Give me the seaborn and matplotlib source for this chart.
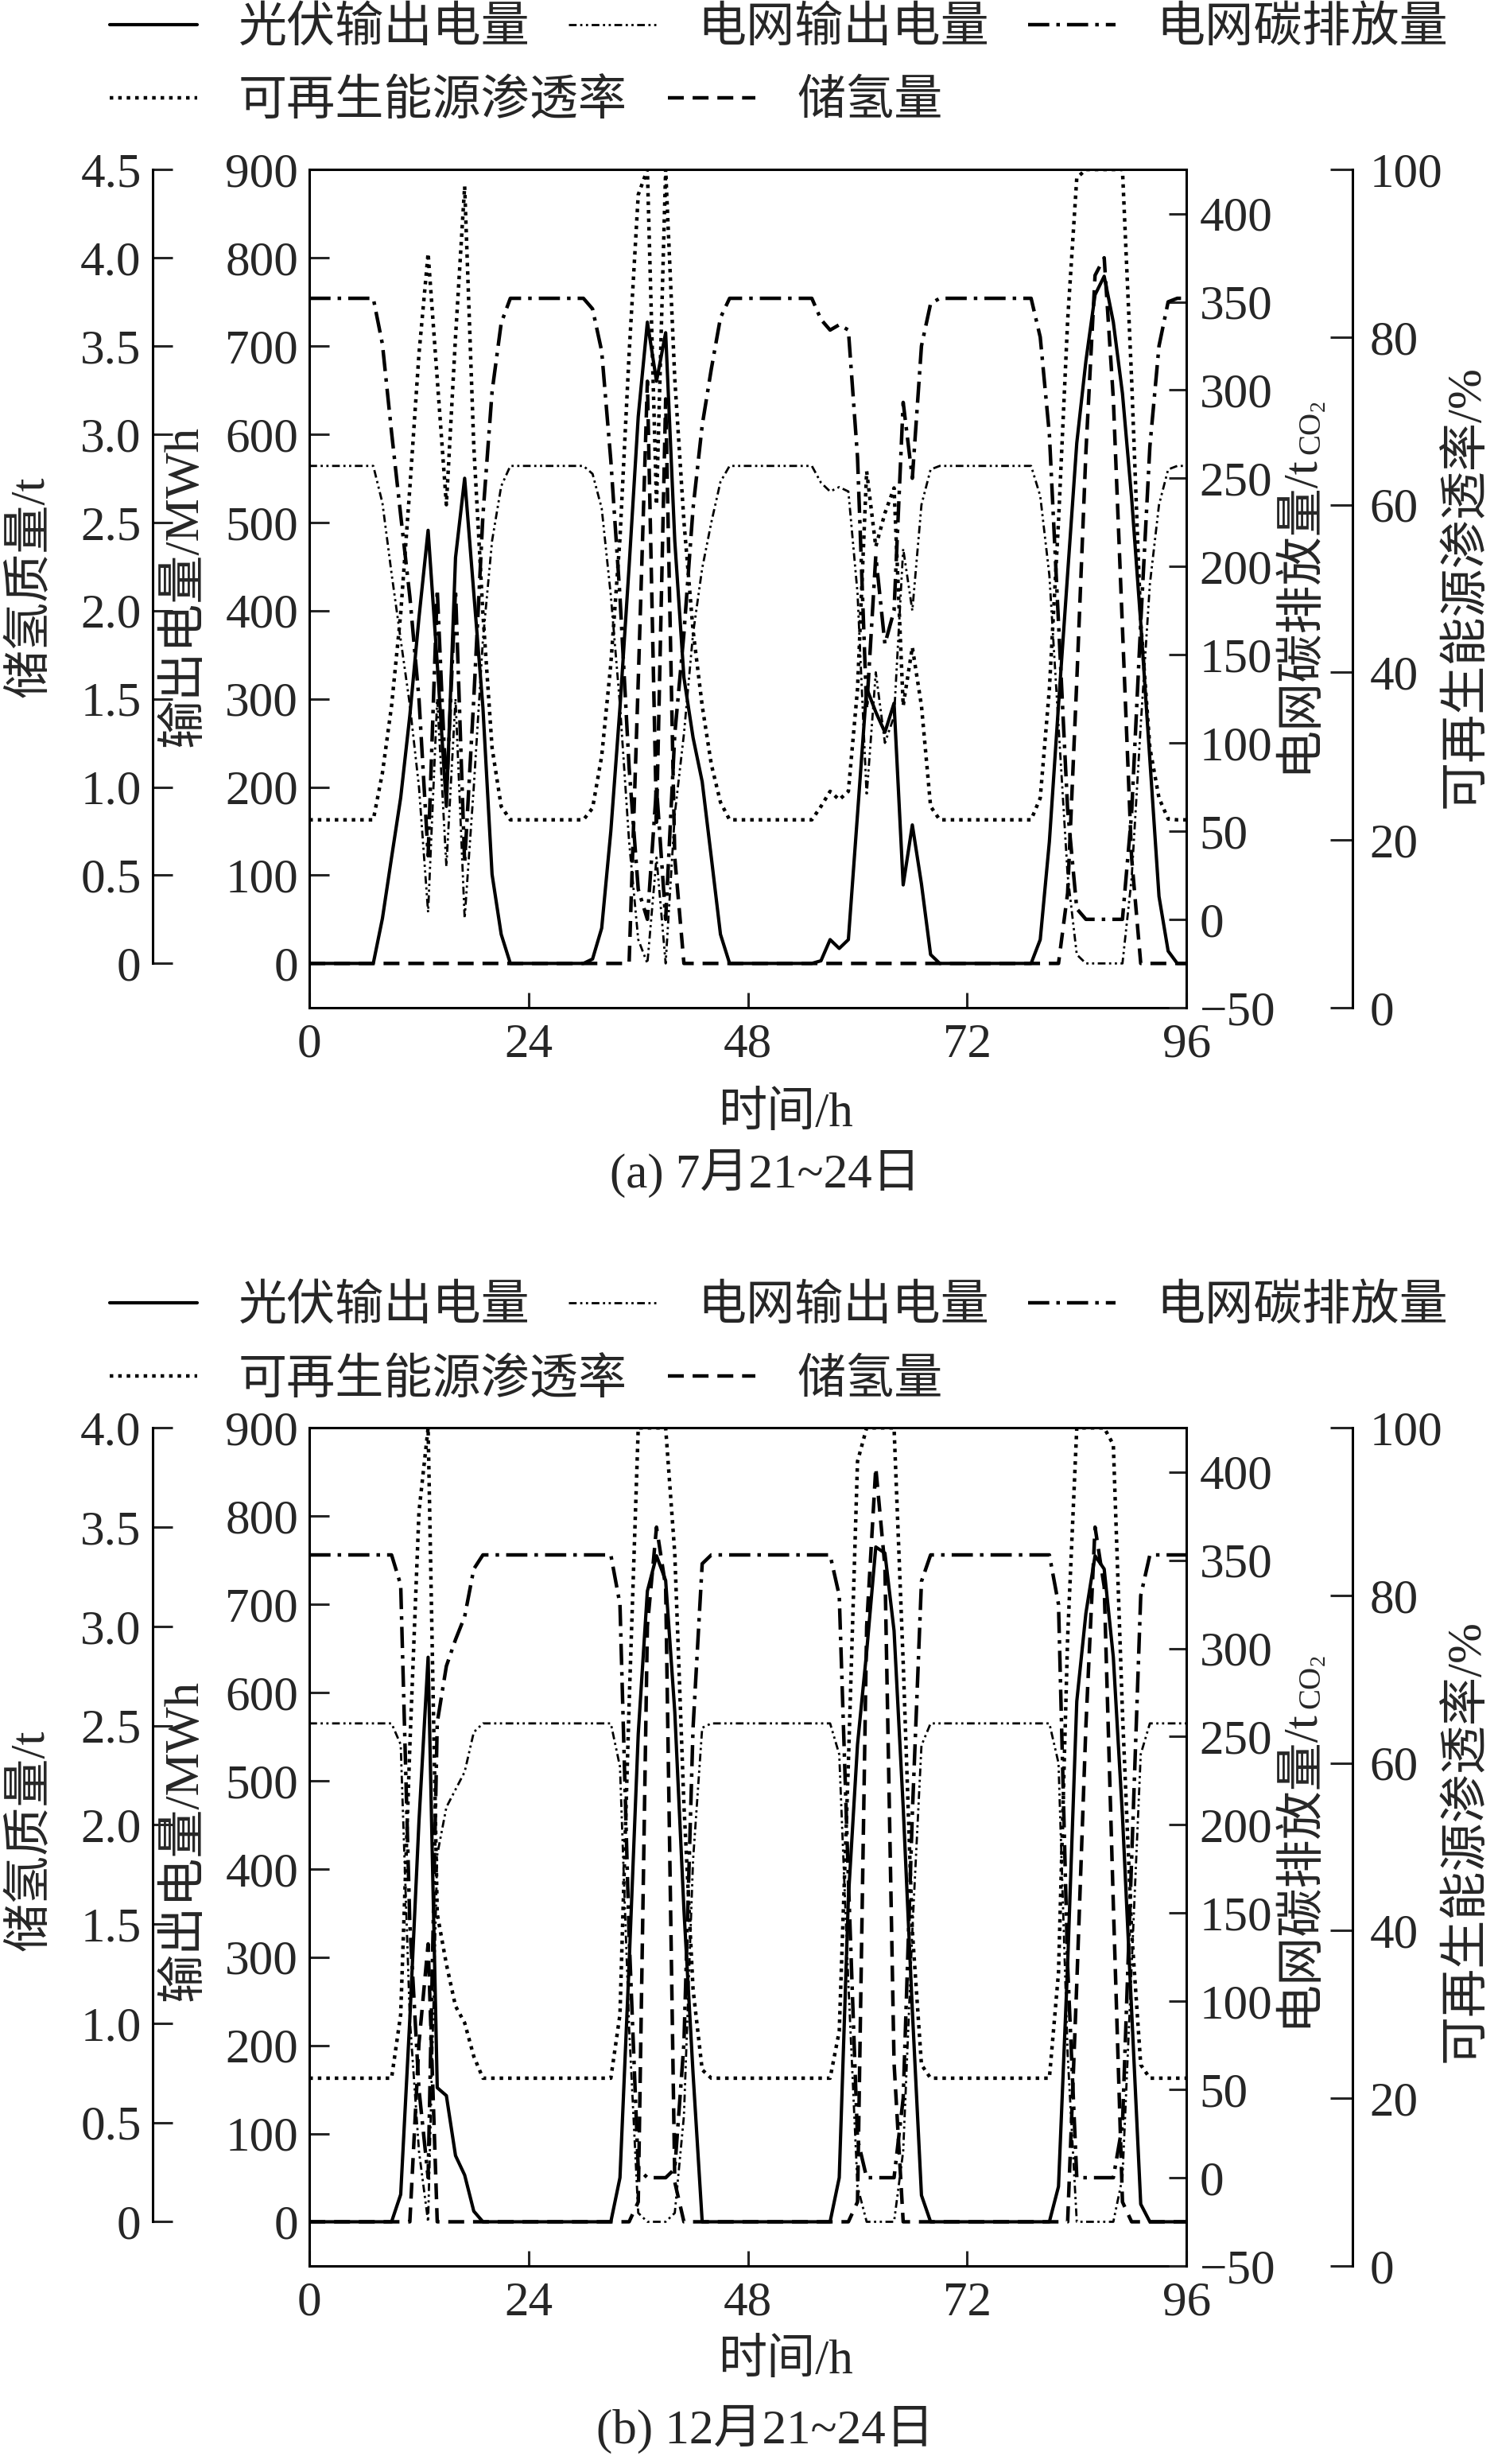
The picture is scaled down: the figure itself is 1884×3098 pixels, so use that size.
import matplotlib
matplotlib.use("Agg")
import matplotlib.pyplot as plt
import seaborn as sns
from matplotlib.lines import Line2D
from matplotlib.ticker import FuncFormatter

# 时间轴 (h)
hours = list(range(97))

# ---------- (a) 7月21~24日 ----------
pv_a = [0] * 8 + [51, 120, 188, 281, 392, 491, 340, 178, 460, 550, 420, 290, 101, 33, 0] \
    + [0] * 8 + [5, 40, 150, 290, 450, 620, 727, 660, 715, 479, 324, 256, 206, 120, 33, 0] \
    + [0] * 9 + [3, 27, 17, 27, 169, 312, 285, 262, 295, 89, 157, 90, 10] \
    + [0] * 11 + [27, 138, 293, 442, 590, 683, 758, 779, 727, 646, 528, 386, 231, 76, 14, 0, 0]
grid_a = [564] * 8 + [522, 442, 367, 293, 200, 58, 300, 110, 300, 51, 200, 367, 479, 541, 564] \
    + [564] * 8 + [555, 516, 417, 293, 138, 27, 0, 120, 0, 169, 260, 374, 448, 500, 546, 564] \
    + [564] * 9 + [545, 535, 540, 535, 420, 190, 330, 250, 280, 470, 400, 520, 560] \
    + [564] * 11 + [530, 440, 270, 100, 10, 0, 0, 0, 0, 0, 96, 270, 430, 520, 560, 564, 564]
carbon_a = [352] * 8 + [326, 276, 229, 183, 125, 36, 187, 69, 187, 32, 125, 229, 299, 338, 352] \
    + [352] * 8 + [346, 322, 260, 183, 86, 17, 0, 75, 0, 105, 162, 233, 280, 312, 341, 352] \
    + [352] * 9 + [340, 334, 337, 334, 262, 119, 206, 156, 175, 293, 250, 325, 349] \
    + [352] * 11 + [330, 275, 168, 62, 6, 0, 0, 0, 0, 0, 60, 168, 268, 325, 350, 352, 352]
pen_a = [22.4] * 8 + [28, 36, 47, 62, 78, 90, 75, 60, 80, 98, 67, 47, 31, 24, 22.4] \
    + [22.4] * 8 + [23.8, 30, 41, 56, 78, 97, 100, 60, 100, 75, 58, 45, 36, 29, 24.5, 22.4] \
    + [22.4] * 9 + [24, 25.8, 24.8, 25.8, 38, 64, 55, 59, 62, 36, 43, 36, 24] \
    + [22.4] * 11 + [25, 38, 58, 82, 99, 100, 100, 100, 100, 100, 75, 46, 31, 25, 22.5, 22.4, 22.4]
h2_a = [0] * 36 + [1.6, 3.3, 0.8, 3.2, 0.6] + [0] * 42 \
    + [0.4, 1.6, 2.9, 3.9, 4.0, 3.2, 1.9, 0.6] + [0] * 6

# ---------- (b) 12月21~24日 ----------
pv_b = [0] * 10 + [31, 230, 454, 640, 152, 143, 75, 53, 12] \
    + [0] * 15 + [50, 292, 553, 715, 755, 727, 578, 354, 168] \
    + [0] * 15 + [50, 367, 541, 646, 765, 758, 670, 470, 240, 30] \
    + [0] * 14 + [40, 292, 590, 690, 755, 740, 640, 460, 240, 20] + [0] * 5
grid_b = [565] * 10 + [541, 230, 80, 0, 416, 470, 490, 510, 555] \
    + [565] * 15 + [516, 220, 10, 0, 0, 0, 10, 120, 410, 560] \
    + [565] * 14 + [530, 270, 40, 0, 0, 0, 0, 80, 330, 540] \
    + [565] * 14 + [520, 190, 0, 0, 0, 0, 0, 50, 290, 530] + [565] * 5
carbon_b = [353] * 10 + [336, 144, 50, 0, 258, 290, 305, 318, 345] \
    + [353] * 15 + [325, 137, 5, 0, 0, 0, 5, 76, 255, 348] \
    + [353] * 14 + [330, 169, 22, 0, 0, 0, 0, 45, 206, 338] \
    + [353] * 14 + [325, 120, 0, 0, 0, 0, 0, 30, 180, 330] + [353] * 5
pen_b = [22.4] * 10 + [30, 62, 90, 100, 42, 36, 31, 29, 25] \
    + [22.4] * 15 + [30, 67, 100, 100, 100, 100, 85, 55, 33, 23.4] \
    + [22.4] * 14 + [28, 60, 96, 100, 100, 100, 100, 72, 40, 24] \
    + [22.4] * 14 + [35, 75, 100, 100, 100, 100, 98, 66, 40, 24] + [22.4] * 5
h2_b = [0] * 12 + [0.9, 1.4] + [0] * 22 + [0.1, 3.0, 3.5, 3.2, 0.2] + [0] * 19 \
    + [0.1, 3.0, 3.8, 3.3, 0.8] + [0] * 19 + [1.2, 2.5, 3.5, 3.2, 1.6, 0.1] + [0] * 7

legend_row1 = ["光伏输出电量", "电网输出电量", "电网碳排放量"]
legend_row2 = ["可再生能源渗透率", "储氢量"]

sns.set_theme(style="white")
plt.rcParams["font.family"] = ["Liberation Serif", "Noto Sans CJK SC"]
plt.rcParams["axes.linewidth"] = 1.1

FS = 22
styles = {
    "pv": dict(linestyle="-", linewidth=1.5),
    "grid": dict(linestyle=(0, (3.5, 1.6, 1, 1.6, 1, 1.6)), linewidth=1.0),
    "carbon": dict(linestyle=(0, (6, 2, 1, 2)), linewidth=1.6),
    "pen": dict(linestyle=(0, (1, 1.4)), linewidth=1.6),
    "h2": dict(linestyle=(0, (4.5, 2.5)), linewidth=1.6),
}

fig = plt.figure(figsize=(9.42, 15.49), dpi=200)
renderer = fig.canvas.get_renderer()


def fmt_int(v, _):
    return "%d" % round(v)


def fmt_h2(v, _):
    if abs(v) < 1e-9:
        return "0"
    return "%.1f" % v


def draw_panel(rect, pv, grid, carbon, pen, h2, h_top):
    ax = fig.add_axes(rect)
    ax_h = ax.twinx()
    ax_c = ax.twinx()
    ax_p = ax.twinx()

    sns.lineplot(x=hours, y=grid, ax=ax, color="black", errorbar=None, **styles["grid"])
    sns.lineplot(x=hours, y=pv, ax=ax, color="black", errorbar=None, **styles["pv"])
    sns.lineplot(x=hours, y=h2, ax=ax_h, color="black", errorbar=None, **styles["h2"])
    sns.lineplot(x=hours, y=carbon, ax=ax_c, color="black", errorbar=None, **styles["carbon"])
    sns.lineplot(x=hours, y=pen, ax=ax_p, color="black", errorbar=None, **styles["pen"])

    ax.set_xlim(0, 96)
    ax.set_xticks([0, 24, 48, 72, 96])
    ax.set_ylim(-50, 900)
    ax.set_yticks(range(0, 901, 100))
    ax.yaxis.set_major_formatter(FuncFormatter(fmt_int))
    ax.tick_params(axis="y", direction="in", length=9, width=1.1, labelsize=FS, pad=5,
                   left=True, right=False)
    ax.tick_params(axis="x", direction="in", length=7, width=1.1, labelsize=FS, pad=7,
                   bottom=True, top=False)
    ax.spines["right"].set_visible(False)

    # 储氢质量
    ax_h.set_ylim(-h_top / 18.0, h_top)
    ax_h.set_yticks([i * 0.5 for i in range(int(h_top * 2) + 1)])
    ax_h.yaxis.set_major_formatter(FuncFormatter(fmt_h2))
    ax_h.yaxis.set_ticks_position("left")
    ax_h.spines["left"].set_position(("axes", -0.179))
    ax_h.spines["left"].set_bounds(0, h_top)
    for s in ["right", "top", "bottom"]:
        ax_h.spines[s].set_visible(False)
    ax_h.tick_params(axis="y", direction="in", length=9, width=1.1, labelsize=FS, pad=5)

    # 电网碳排放量
    ax_c.set_ylim(-50, 425)
    ax_c.set_yticks(range(-50, 401, 50))
    ax_c.tick_params(axis="y", direction="in", length=8, width=1.1, labelsize=FS, pad=6)
    for s in ["left", "top", "bottom"]:
        ax_c.spines[s].set_visible(False)

    # 可再生能源渗透率
    ax_p.set_ylim(0, 100)
    ax_p.set_yticks(range(0, 101, 20))
    ax_p.spines["right"].set_position(("axes", 1.189))
    for s in ["left", "top", "bottom"]:
        ax_p.spines[s].set_visible(False)
    ax_p.tick_params(axis="y", direction="in", length=10, width=1.1, labelsize=FS, pad=8)

    for a in (ax, ax_h, ax_c, ax_p):
        a.set_xlabel("")
        a.set_ylabel("")
        a.grid(False)
        for sp in a.spines.values():
            sp.set_color("black")
            sp.set_linewidth(1.1)
    return ax


def add_legend(y1, y2):
    h = {k: Line2D([], [], color="black", **v) for k, v in styles.items()}
    kw = dict(loc="center left", frameon=False, handlelength=1.8, handletextpad=0.85,
              borderpad=0, borderaxespad=0, prop={"size": FS})
    fig.legend(handles=[h["pv"], h["grid"], h["carbon"]], labels=legend_row1,
               bbox_to_anchor=(0.073, y1), ncol=3, columnspacing=0.8, **kw)
    fig.legend(handles=[h["pen"], h["h2"]], labels=legend_row2,
               bbox_to_anchor=(0.073, y2), ncol=2, columnspacing=0.85, **kw)


def carbon_label(x, yc):
    # 电网碳排放量/t 加下标 CO2
    fig_h = fig.get_figheight() * fig.dpi
    t1 = fig.text(x, 0, "电网碳排放量/t", rotation=90, ha="center", va="bottom", fontsize=FS)
    t2 = fig.text(x + 0.0085, 0, "CO", rotation=90, ha="center", va="bottom", fontsize=14)
    t3 = fig.text(x + 0.0135, 0, "2", rotation=90, ha="center", va="bottom", fontsize=10)
    h1 = t1.get_window_extent(renderer).height / fig_h
    h2 = t2.get_window_extent(renderer).height / fig_h
    h3 = t3.get_window_extent(renderer).height / fig_h
    y0 = yc - (h1 + h2 + h3) / 2
    t1.set_y(y0)
    t2.set_y(y0 + h1)
    t3.set_y(y0 + h1 + h2)


def add_labels(yc, y_xl, y_cap, cap):
    fig.text(0.021, yc, "储氢质量/t", rotation=90, ha="center", va="center", fontsize=FS)
    fig.text(0.1235, yc, "输出电量/MWh", rotation=90, ha="center", va="center", fontsize=FS)
    carbon_label(0.867, yc)
    fig.text(0.979, yc, "可再生能源渗透率/%", rotation=90, ha="center", va="center", fontsize=FS)
    fig.text(0.5246, y_xl, "时间/h", ha="center", va="center", fontsize=FS)
    fig.text(0.511, y_cap, cap, ha="center", va="center", fontsize=FS)


draw_panel([0.2065, 0.5911, 0.5855, 0.3401], pv_a, grid_a, carbon_a, pen_a, h2_a, 4.5)
add_legend(0.9881, 0.9584)
add_labels(0.762, 0.5478, 0.5236, "(a) 7月21~24日")

draw_panel([0.2065, 0.0804, 0.5855, 0.3401], pv_b, grid_b, carbon_b, pen_b, h2_b, 4.0)
add_legend(0.4694, 0.4396)
add_labels(0.253, 0.0416, 0.0142, "(b) 12月21~24日")

fig.savefig("out.png", dpi=200, facecolor="white")
